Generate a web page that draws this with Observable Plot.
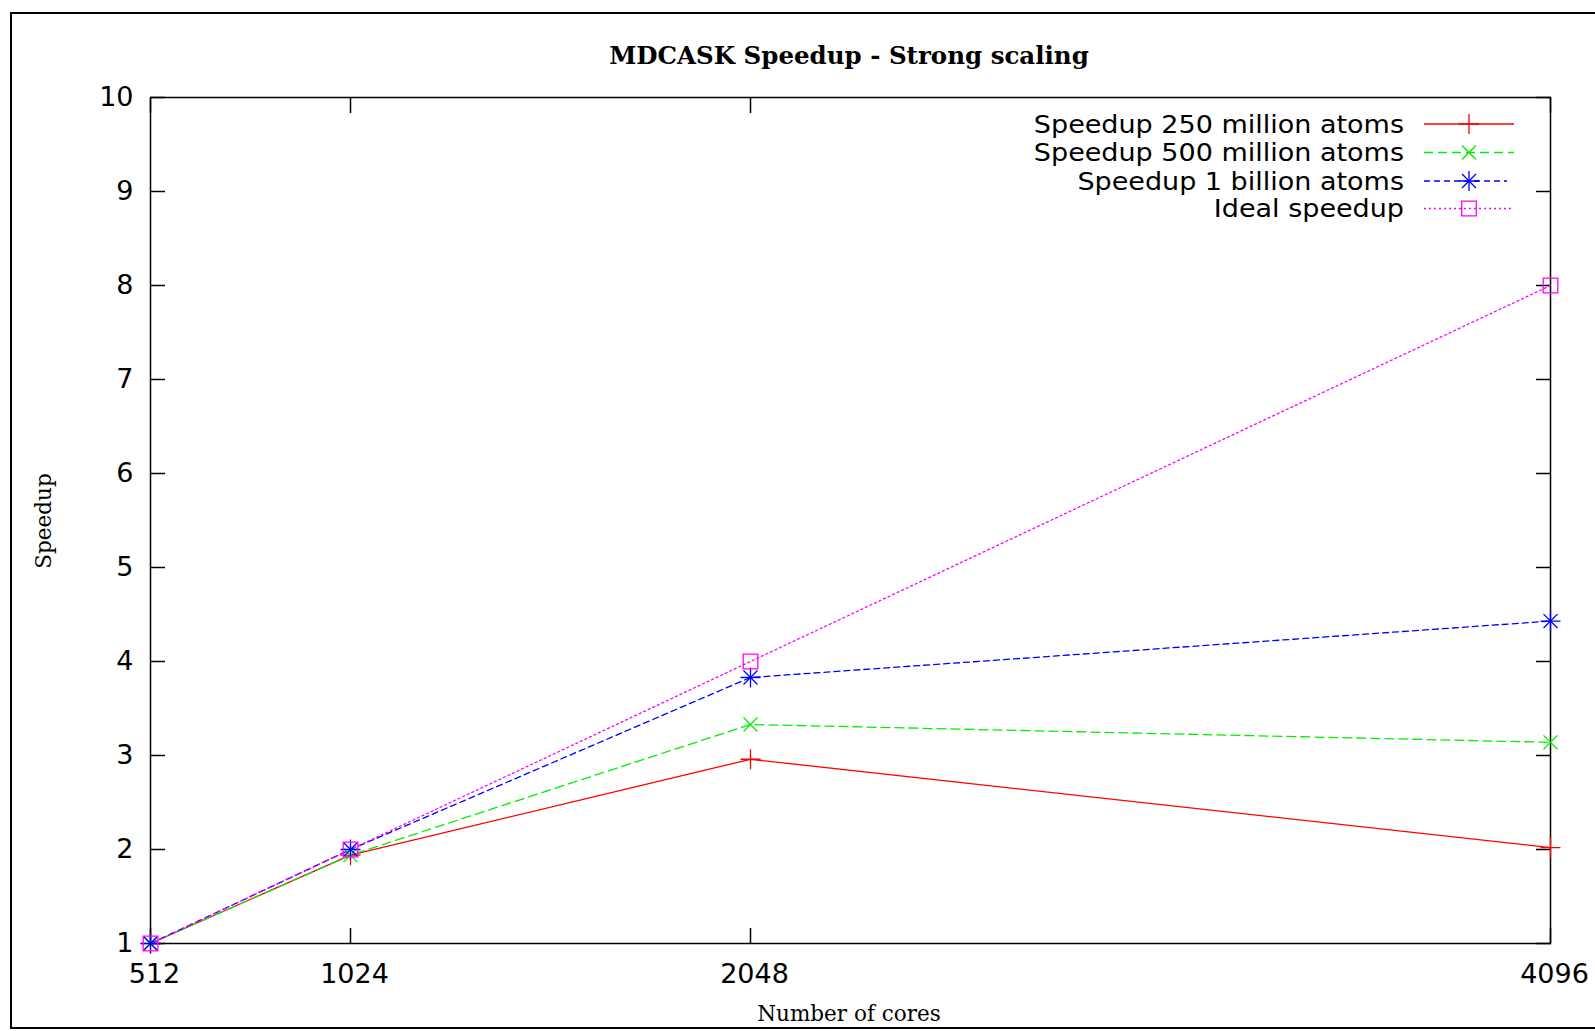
<!DOCTYPE html>
<html>
<head>
<meta charset="utf-8">
<script src="https://cdn.jsdelivr.net/npm/d3@7"></script>
<script src="https://cdn.jsdelivr.net/npm/@observablehq/plot@0.6"></script>
<style>
  html, body { margin: 0; padding: 0; background: #fff; }
  #wrap { position: relative; width: 1595px; height: 1031px; overflow: hidden; }
  #border { position: absolute; left: 10px; top: 12px; width: 1600px; height: 1013px;
            border: 2px solid #000; border-right: none; box-sizing: content-box; }
  .lbl { position: absolute; transform: translate(-50%, -50%); white-space: nowrap; color: #000; }
  #title { left: 849px; top: 55px; font: bold 24.5px "DejaVu Serif", serif; }
  #xlabel { left: 849px; top: 1013px; font: 21.5px "DejaVu Serif", serif; }
  #ylabel { left: 43px; top: 521px; font: 21.5px "DejaVu Serif", serif; transform: translate(-50%, -50%) rotate(-90deg); }
  #chart { position: absolute; left: 0; top: 0; }
  #legend { position: absolute; left: 1000px; top: 100px; }
</style>
</head>
<body>
<div id="wrap">
  <div id="border"></div>
  <div id="chart"></div>
  <div id="legend"></div>
  <div class="lbl" id="title">MDCASK Speedup - Strong scaling</div>
  <div class="lbl" id="xlabel">Number of cores</div>
  <div class="lbl" id="ylabel">Speedup</div>
</div>
<script>
// ---- data ----
const cores = [512, 1024, 2048, 4096];
const speedup250M = [1, 1.94, 2.96, 2.02];
const speedup500M = [1, 1.94, 3.33, 3.14];
const speedup1B = [1, 2.0, 3.83, 4.43];
const idealSpeedup = [1, 2, 4, 8];
const seriesNames = ["Speedup 250 million atoms", "Speedup 500 million atoms", "Speedup 1 billion atoms", "Ideal speedup"];
const yTicks = [1, 2, 3, 4, 5, 6, 7, 8, 9, 10];
const xTicks = cores;

// ---- styles ----
const seriesStyle = [
  {color: "#ff0000", dash: null, symbols: [["plus", 6.5]]},
  {color: "#00ee00", dash: "9,5", symbols: [["times", 6.4]]},
  {color: "#0000ff", dash: "6,4", symbols: [["plus", 6.5], ["times", 6.4]]},
  {color: "#ff00ff", dash: "2,3", symbols: [["square2", 9.3]]}
];
const seriesValues = [speedup250M, speedup500M, speedup1B, idealSpeedup];

const table = [];
seriesValues.forEach((vals, i) => vals.forEach((v, j) => table.push({series: i, x: cores[j], y: v})));

const fmt = d => String(d);
const marks = [Plot.frame({stroke: "#000", strokeWidth: 1.5})];
// labels
marks.push(Plot.axisX(xTicks, {anchor: "bottom", tickSize: 0, tickPadding: 20, label: null, fontSize: 27, dx: 4, tickFormat: fmt}));
marks.push(Plot.axisY(yTicks, {anchor: "left", tickSize: 0, tickPadding: 17, label: null, fontSize: 27, tickFormat: fmt}));
// inward ticks on all four sides
marks.push(Plot.axisX(xTicks, {anchor: "bottom", tickSize: 15, dy: -15, fill: "none", label: null, strokeWidth: 1.5}));
marks.push(Plot.axisX(xTicks, {anchor: "top", tickSize: 15, dy: 15, fill: "none", label: null, strokeWidth: 1.5}));
marks.push(Plot.axisY(yTicks, {anchor: "left", tickSize: 15, dx: 15, fill: "none", label: null, strokeWidth: 1.5}));
marks.push(Plot.axisY(yTicks, {anchor: "right", tickSize: 15, dx: -15, fill: "none", label: null, strokeWidth: 1.5}));

seriesStyle.forEach((s, i) => {
  const d = table.filter(t => t.series === i);
  marks.push(Plot.line(d, {x: "x", y: "y", stroke: s.color, strokeWidth: 1.3, strokeDasharray: s.dash}));
});
seriesStyle.forEach((s, i) => {
  const d = table.filter(t => t.series === i);
  s.symbols.forEach(([sym, r]) => {
    marks.push(Plot.dot(d, {x: "x", y: "y", stroke: s.color, fill: "none", symbol: sym, r, strokeWidth: 1.3}));
  });
});

const chart = Plot.plot({
  width: 1595,
  height: 1031,
  marginLeft: 150,
  marginRight: 45,
  marginTop: 97,
  marginBottom: 88,
  x: {type: "linear", domain: [512, 4096]},
  y: {type: "linear", domain: [1, 10]},
  style: {fontFamily: "DejaVu Sans, sans-serif", fontSize: "27px", background: "transparent", color: "#000"},
  marks
});
document.getElementById("chart").appendChild(chart);

// ---- legend ----
const lg = d3.select("#legend").append("svg").attr("width", 560).attr("height", 125);
const rowY = [24, 52.5, 81, 108.5];
const gens = {plus: d3.symbolPlus, times: d3.symbolTimes, square2: d3.symbolSquare2};
seriesNames.forEach((name, i) => {
  const s = seriesStyle[i];
  const y = rowY[i];
  const t = lg.append("text").attr("x", 404).attr("y", y).attr("dy", "0.36em")
    .attr("text-anchor", "end").attr("font-family", "DejaVu Sans, sans-serif")
    .attr("font-size", 27).attr("fill", "#000").text(name);
  // keep the same width but a shorter line box so rows do not overlap
  const len = t.node().getComputedTextLength();
  t.attr("font-size", 24).attr("textLength", len).attr("lengthAdjust", "spacingAndGlyphs");
  lg.append("line").attr("x1", 424).attr("x2", i === 2 ? 507 : 514).attr("y1", y).attr("y2", y)
    .attr("stroke", s.color).attr("stroke-width", 1.3).attr("stroke-dasharray", s.dash);
  s.symbols.forEach(([sym, r]) => {
    lg.append("path").attr("d", d3.symbol(gens[sym], Math.PI * r * r)())
      .attr("transform", `translate(469,${y})`).attr("fill", "none")
      .attr("stroke", s.color).attr("stroke-width", 1.3);
  });
});
</script>
</body>
</html>
